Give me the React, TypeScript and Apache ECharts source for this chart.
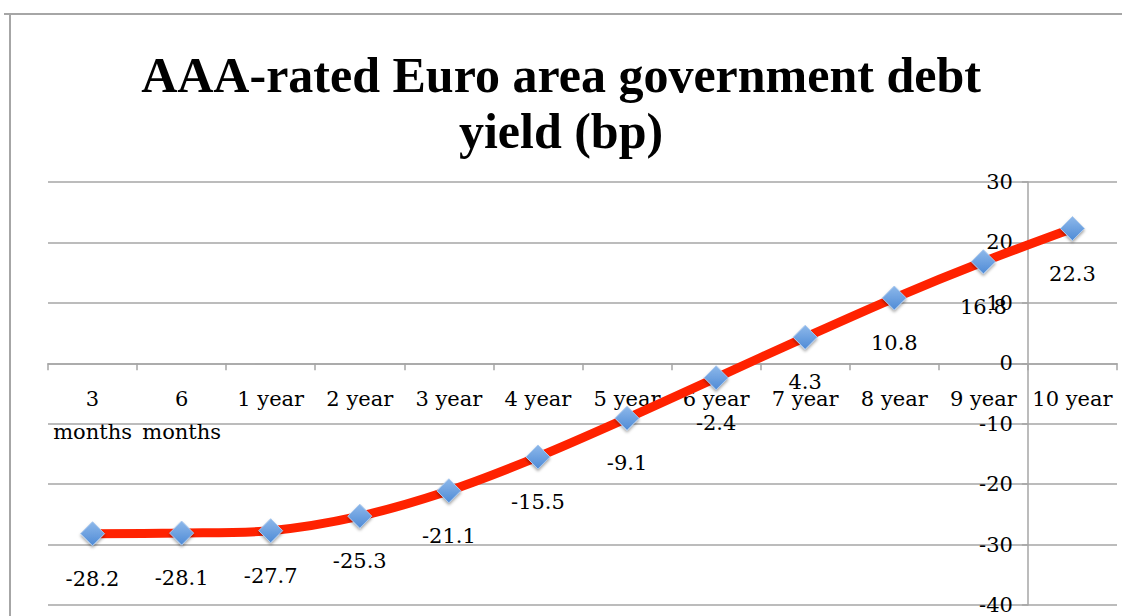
import React, { useEffect, useRef } from "react";
import * as echarts from "echarts";

const titleText = "AAA-rated Euro area government debt\nyield (bp)";
const categories = ["3 months", "6 months", "1 year", "2 year", "3 year", "4 year", "5 year", "6 year", "7 year", "8 year", "9 year", "10 year"];
const yieldValues = [-28.2, -28.1, -27.7, -25.3, -21.1, -15.5, -9.1, -2.4, 4.3, 10.8, 16.8, 22.3];
const yMin = -40;
const yMax = 30;
const yStep = 10;

const SERIF = "'DejaVu Serif', serif";
const GRAY = "#a6a6a6";

export default function App() {
  const ref = useRef<HTMLDivElement>(null);
  useEffect(() => {
    if (!ref.current) return;
    const chart = echarts.init(ref.current, null, { renderer: "svg" });
    const W = 1122;
    const H = 616;
    const gridLeft = 48;
    const gridRight = 5;
    const gridTop = 182;
    const gridBottom = 11;
    const gridWidth = W - gridLeft - gridRight;
    const gridHeight = H - gridTop - gridBottom;
    const catW = gridWidth / categories.length;
    const zeroOffset = ((0 - yMin) / (yMax - yMin)) * gridHeight;
    chart.setOption({
      animation: false,
      backgroundColor: "#ffffff",
      title: {
        text: titleText,
        left: "center",
        top: 42,
        textStyle: {
          fontFamily: "'Liberation Serif', serif",
          fontWeight: "bold",
          fontSize: 50,
          lineHeight: 56,
          color: "#000",
        },
      },
      graphic: [
        { type: "line", shape: { x1: 4, y1: 14, x2: 1122, y2: 14 }, style: { stroke: GRAY, lineWidth: 2 } },
        { type: "line", shape: { x1: 10, y1: 14, x2: 10, y2: 616 }, style: { stroke: GRAY, lineWidth: 2 } },
      ],
      grid: {
        left: gridLeft,
        right: gridRight,
        top: gridTop,
        bottom: gridBottom,
        containLabel: false,
        outerBoundsMode: "none",
      },
      xAxis: {
        type: "category",
        data: categories,
        boundaryGap: true,
        position: "bottom",
        offset: -zeroOffset,
        axisLine: { onZero: false, lineStyle: { color: GRAY, width: 1.5 } },
        axisTick: { show: true, length: 7, alignWithLabel: false, lineStyle: { color: GRAY, width: 1.5 } },
        axisLabel: {
          interval: 0,
          hideOverlap: false,
          margin: 19,
          fontFamily: SERIF,
          fontSize: 21,
          lineHeight: 33,
          color: "#000",
          formatter: (v: string) => v.replace(" months", "\nmonths"),
        },
        splitLine: { show: false },
      },
      yAxis: {
        type: "value",
        min: yMin,
        max: yMax,
        interval: yStep,
        position: "right",
        offset: -catW,
        axisLine: { show: true, lineStyle: { color: GRAY, width: 1.5 } },
        axisTick: { show: true, inside: true, length: 6, lineStyle: { color: GRAY, width: 1.5 } },
        axisLabel: {
          inside: true,
          margin: 15,
          fontFamily: SERIF,
          fontSize: 21,
          color: "#000",
        },
        splitLine: { show: true, lineStyle: { color: GRAY, width: 1.5 } },
      },
      series: [
        {
          type: "line",
          data: yieldValues,
          smooth: 0.3,
          lineStyle: { color: "#ff2200", width: 9 },
          symbol: "diamond",
          symbolSize: 24,
          itemStyle: {
            color: new echarts.graphic.LinearGradient(0, 0, 0, 1, [
              { offset: 0, color: "#8db8ea" },
              { offset: 1, color: "#4f8bd6" },
            ]),
            borderColor: "#a9c8ee",
            borderWidth: 1,
            shadowColor: "rgba(0,0,0,0.35)",
            shadowBlur: 3,
            shadowOffsetY: 2,
          },
          label: {
            show: true,
            position: "bottom",
            distance: 22,
            fontFamily: SERIF,
            fontSize: 21,
            color: "#000",
            formatter: (p: any) => String(p.value),
          },
          z: 3,
        },
      ],
    });
    return () => chart.dispose();
  }, []);
  return (
    <div
      ref={ref}
      style={{ position: "fixed", left: 0, top: 0, width: 1122, height: 616, background: "#fff" }}
    />
  );
}
